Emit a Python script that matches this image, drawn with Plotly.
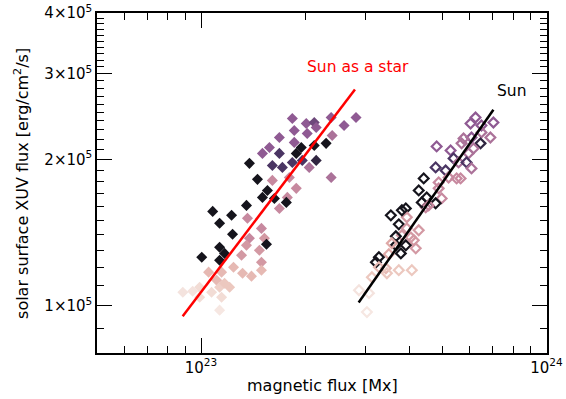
import numpy as np
import plotly.graph_objects as go

# ---- data (x in 1e23 Mx, y in 1e5 erg/cm2/s, c = colour phase 0..6) ----
star_x = [1.838, 2.017, 2.127, 2.381, 2.810, 2.595, 1.862, 2.030, 1.686, 2.397,
          2.155, 1.578, 1.862, 2.302, 2.127, 1.506, 1.686, 1.951, 1.887, 1.381,
          2.155, 1.609, 1.720, 1.838, 1.964, 2.057, 2.381, 1.609, 1.802, 1.457,
          1.887, 1.557, 1.506, 1.631, 1.778, 1.766, 1.686, 1.081, 1.226, 1.354,
          1.132, 1.363, 1.234, 1.496, 1.381, 1.526, 1.132, 1.547, 1.170, 1.005,
          1.476, 1.354, 1.132, 1.310, 1.496, 1.052, 1.147, 1.242, 1.319, 1.400,
          1.496, 1.110, 0.991, 1.073, 1.132, 1.210, 0.886, 0.946, 1.147, 1.132,
          0.991, 1.170]
star_y = [2.428, 2.371, 2.382, 2.439, 2.439, 2.349, 2.294, 2.261, 2.219, 2.240,
          2.327, 2.117, 2.168, 2.158, 2.137, 2.058, 2.058, 2.117, 2.058, 1.963,
          1.991, 1.944, 1.926, 1.972, 1.991, 1.926, 1.836, 1.811, 1.836, 1.820,
          1.744, 1.727, 1.671, 1.663, 1.671, 1.632, 1.586, 1.564, 1.535, 1.609,
          1.478, 1.514, 1.404, 1.443, 1.377, 1.377, 1.320, 1.339, 1.282, 1.259,
          1.301, 1.332, 1.241, 1.271, 1.229, 1.173, 1.173, 1.201, 1.167, 1.151,
          1.184, 1.129, 1.092, 1.067, 1.092, 1.092, 1.067, 1.072, 1.042, 0.980,
          1.042, 1.113]
star_c = [4, 4, 4.5, 4, 4, 4, 4, 4, 4, 3.5,
          4, 4, 4, 6, 6, 4, 5, 6, 6, 6,
          5.5, 5, 5, 5, 5, 3.5, 3.5, 3, 3, 6,
          3, 6, 6, 6, 3, 6, 3, 6, 6, 6,
          6, 3, 6, 3, 3, 2.5, 6, 6, 6, 6,
          2.5, 2.5, 6, 2.5, 2.5, 1.5, 1.5, 1.5, 1.5, 1.5,
          1.5, 1.5, 0.5, 0.5, 0.8, 1, 0.3, 0.3, 0.5, 0.2,
          0.5, 1]

sun_x = [6.232, 7.021, 6.484, 6.028, 6.484, 6.881, 6.067, 5.753, 6.442, 5.678,
         4.809, 5.278, 5.948, 6.149, 5.384, 4.777, 5.106, 5.566, 5.870, 6.067,
         5.641, 5.208, 4.874, 4.412, 4.268, 4.874, 4.501, 4.972, 4.777, 4.471,
         4.355, 3.916, 3.544, 3.942, 3.737, 4.268, 3.942, 3.815, 3.664, 4.129,
         3.916, 3.664, 4.184, 3.788, 3.497, 3.273, 3.209, 3.429, 3.273, 3.737,
         4.076, 3.452, 3.124, 2.866, 3.063, 3.022, 3.567, 4.048, 3.815, 4.561,
         5.494]
sun_y = [2.439, 2.382, 2.349, 2.371, 2.273, 2.219, 2.219, 2.208, 2.158, 2.158,
         2.127, 2.087, 2.058, 2.107, 2.010, 1.926, 1.898, 1.972, 1.972, 1.917,
         1.828, 1.836, 1.794, 1.828, 1.727, 1.744, 1.671, 1.663, 1.625, 1.594,
         1.632, 1.586, 1.535, 1.521, 1.471, 1.430, 1.443, 1.397, 1.390, 1.364,
         1.332, 1.332, 1.313, 1.282, 1.277, 1.259, 1.229, 1.195, 1.201, 1.184,
         1.184, 1.167, 1.145, 1.077, 1.062, 0.971, 1.345, 1.383, 1.572, 1.609,
         1.828]
sun_c = [4, 4, 4, 4, 3.5, 3.5, 4, 3.5, 5.5, 3.5,
         4, 4, 3.5, 3.5, 5, 5, 5, 3.5, 5, 3.5,
         3, 3, 3, 6, 6, 3, 6, 3, 6, 3,
         6, 6, 6, 2.5, 6, 2.5, 2.5, 2.5, 6, 2.5,
         6, 6, 2.5, 6, 2, 6, 6, 1.5, 1.5, 1,
         1, 1, 1, 0.3, 0.3, 0.2, 2, 2.5, 6, 3,
         3]

star_fit_x = [0.885, 2.79]
star_fit_y = [0.952, 2.784]
sun_fit_x = [2.86, 7.02]
sun_fit_y = [1.016, 2.53]

x_ticks = [1e23, 1e24]
x_ticktext = ["10<sup>23</sup>", "10<sup>24</sup>"]
y_ticks = [1e5, 2e5, 3e5, 4e5]
y_ticktext = ["1×10<sup>5</sup>", "2×10<sup>5</sup>", "3×10<sup>5</sup>", "4×10<sup>5</sup>"]

XS, YS = 1e23, 1e5

cscale = [[0.0, "#f8efeb"], [1/6, "#ecc8bf"], [2/6, "#dfa9a7"], [3/6, "#c7899f"],
          [4/6, "#8f5a93"], [5/6, "#4a3563"], [1.0, "#15141c"]]

fig = go.Figure()
fig.add_trace(go.Scatter(
    x=[v * XS for v in star_x], y=[v * YS for v in star_y], mode="markers",
    marker=dict(symbol="diamond", size=8.5, color=star_c, colorscale=cscale,
                cmin=0, cmax=6, line=dict(width=0)),
    showlegend=False))
fig.add_trace(go.Scatter(
    x=[v * XS for v in sun_x], y=[v * YS for v in sun_y], mode="markers",
    marker=dict(symbol="diamond-open", size=7.5, color=sun_c, colorscale=cscale,
                cmin=0, cmax=6, line=dict(width=2.2)),
    showlegend=False))
fig.add_trace(go.Scatter(
    x=[v * XS for v in star_fit_x], y=[v * YS for v in star_fit_y], mode="lines",
    line=dict(color="#ff0000", width=2.5), showlegend=False))
fig.add_trace(go.Scatter(
    x=[v * XS for v in sun_fit_x], y=[v * YS for v in sun_fit_y], mode="lines",
    line=dict(color="#000000", width=2.5), showlegend=False))

x_minor = [k * 1e22 for k in range(5, 10)] + [k * 1e23 for k in range(2, 10)]
y_minor = [k * 1e4 for k in range(8, 41) if k % 10 != 0]

font = "'DejaVu Sans', sans-serif"
axis_common = dict(type="log", ticks="inside", ticklen=15, tickwidth=1.3,
                   tickcolor="black", showline=True, linewidth=1.5, linecolor="black",
                   mirror="allticks", showgrid=False, zeroline=False, automargin=False,
                   tickfont=dict(family=font, size=15, color="black"))

fig.update_layout(
    width=566, height=399,
    margin=dict(l=97, r=19, t=13, b=46),
    plot_bgcolor="white", paper_bgcolor="white",
    font=dict(family=font, color="black"),
    xaxis=dict(range=[np.log10(5e22), 24.0015], tickvals=x_ticks, ticktext=x_ticktext,
               minor=dict(ticks="inside", ticklen=7, tickwidth=1.2, tickcolor="black",
                          tickvals=x_minor, showgrid=False),
               **axis_common),
    yaxis=dict(range=[np.log10(8e4), np.log10(4e5)], tickvals=y_ticks, ticktext=y_ticktext,
               minor=dict(ticks="inside", ticklen=7, tickwidth=1.2, tickcolor="black",
                          tickvals=y_minor, showgrid=False),
               **axis_common),
    annotations=[
        dict(text="magnetic flux [Mx]", xref="paper", yref="paper", x=0.5, y=-0.096,
             xanchor="center", yanchor="middle", showarrow=False,
             font=dict(family=font, size=16, color="black")),
        dict(text="solar surface XUV flux [erg/cm<sup>2</sup>/s]", xref="paper",
             yref="paper", x=-0.169, y=0.5, textangle=-90,
             xanchor="center", yanchor="middle", showarrow=False,
             font=dict(family=font, size=16, color="black")),
        dict(text="Sun as a star", xref="paper", yref="paper", x=0.462, y=0.8406,
             xanchor="left", yanchor="middle", showarrow=False,
             font=dict(family=font, size=15.5, color="#ff0000")),
        dict(text="Sun", xref="paper", yref="paper", x=0.884, y=0.770,
             xanchor="left", yanchor="middle", showarrow=False,
             font=dict(family=font, size=15.5, color="black")),
    ],
)

fig.write_html("out.html", config={"displayModeBar": False},
               post_script="document.body.style.margin='0';document.body.style.overflow='hidden';")
